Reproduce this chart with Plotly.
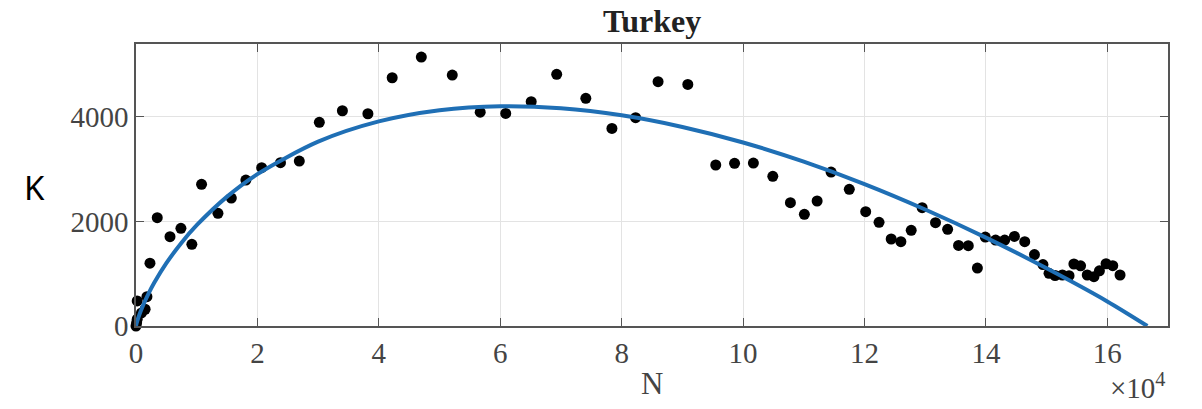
import plotly.graph_objects as go

# Observed cases N (in units of 1e4) and growth K for Turkey
n_obs = [0.00, 0.01, 0.02, 0.02, 0.09, 0.15, 0.18, 0.23, 0.35, 0.56, 0.74, 0.92,
         1.08, 1.35, 1.57, 1.81, 2.07, 2.38, 2.69, 3.02, 3.40, 3.82, 4.22, 4.70,
         5.21, 5.67, 6.09, 6.51, 6.93, 7.41, 7.84, 8.23, 8.60, 9.09, 9.55, 9.86,
         10.17, 10.49, 10.78, 11.01, 11.22, 11.45, 11.75, 12.02, 12.24, 12.44,
         12.60, 12.77, 12.95, 13.17, 13.37, 13.55, 13.71, 13.86, 13.99, 14.16,
         14.31, 14.47, 14.64, 14.80, 14.94, 15.04, 15.14, 15.26, 15.37, 15.45,
         15.56, 15.67, 15.78, 15.87, 15.98, 16.09, 16.21]
k_obs = [0, 60, 130, 480, 250, 320, 560, 1200, 2070, 1707, 1867, 1561,
         2707, 2153, 2446, 2790, 3026, 3121, 3153, 3892, 4114, 4057, 4745, 5140,
         4796, 4086, 4064, 4287, 4810, 4351, 3777, 3981, 4669, 4618, 3077, 3109,
         3115, 2860, 2357, 2134, 2389, 2943, 2612, 2185, 1981, 1663,
         1612, 1828, 2261, 1975, 1847, 1541, 1535, 1108, 1700, 1643,
         1643, 1712, 1612, 1365, 1175, 1007, 965, 975, 962, 1185,
         1150, 975, 943, 1055, 1190, 1153, 975]

# Fitted curve K(N), sampled along N (units of 1e4)
n_fit = [0.0, 0.01, 0.05, 0.1, 0.2, 0.3, 0.5, 0.75, 1.0, 1.5, 2.0, 3.0, 4.0,
         5.0, 6.0, 7.0, 8.0, 9.0, 10.0, 11.0, 12.0, 13.0, 14.0, 15.0, 16.0, 16.66]
k_fit = [0, 51, 199, 350, 605, 825, 1200, 1592, 1926, 2473, 2903, 3523, 3910,
         4124, 4201, 4163, 4027, 3805, 3508, 3141, 2713, 2227, 1689, 1102, 469, 0]

x_ticks = [0, 2, 4, 6, 8, 10, 12, 14, 16]
y_ticks = [0, 2000, 4000]

serif = "Liberation Serif"
tick_color = "#444444"
frame_color = "#555555"

fig = go.Figure()
fig.add_trace(go.Scatter(
    x=n_obs, y=k_obs, mode="markers",
    marker=dict(color="black", size=11, line=dict(width=0)),
    showlegend=False, cliponaxis=False,
))
fig.add_trace(go.Scatter(
    x=n_fit, y=k_fit, mode="lines",
    line=dict(color="#1f6fb5", width=4, shape="spline", smoothing=0.8),
    showlegend=False, cliponaxis=False,
))

axis_common = dict(
    showgrid=True, gridcolor="#e3e3e3", gridwidth=1,
    showline=True, linecolor=frame_color, linewidth=1.5, mirror="ticks",
    ticks="inside", ticklen=8, tickcolor=frame_color, tickwidth=1.2,
    zeroline=False,
    tickfont=dict(family=serif, size=29, color=tick_color),
)

fig.update_xaxes(range=[0, 17], tickvals=x_ticks,
                 ticktext=[str(t) for t in x_ticks], **axis_common)
fig.update_yaxes(range=[0, 5390], tickvals=y_ticks,
                 ticktext=[str(t) for t in y_ticks], **axis_common)

fig.update_layout(
    width=1202, height=409,
    margin=dict(l=136, r=34, t=44, b=83),
    paper_bgcolor="white", plot_bgcolor="white",
    title=dict(text="<b>Turkey</b>", x=0.5425, xanchor="center",
               y=0.948, yanchor="middle",
               font=dict(family=serif, size=32, color="#222222")),
    annotations=[
        dict(text="K", xref="paper", yref="paper", x=-0.0985, y=0.49,
             xanchor="center", yanchor="middle", showarrow=False,
             font=dict(family="Noto Sans", size=33, color="black")),
        dict(text="N", xref="paper", yref="paper", x=0.5, y=-0.205,
             xanchor="center", yanchor="middle", showarrow=False,
             font=dict(family=serif, size=31, color=tick_color)),
        dict(text="×10<sup>4</sup>", xref="paper", yref="paper", x=1.0,
             y=-0.212, xanchor="right", yanchor="middle", showarrow=False,
             font=dict(family=serif, size=29, color=tick_color)),
    ],
)

fig.write_html("out.html")
